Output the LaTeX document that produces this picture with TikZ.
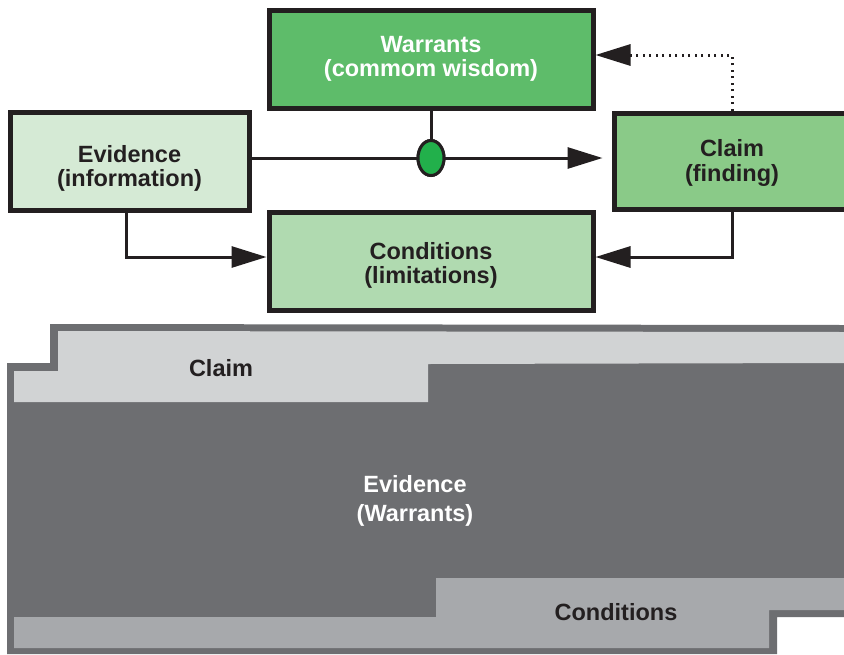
\documentclass[tikz,border=0pt]{standalone}
\usepackage{fontspec}
\setmainfont{Liberation Sans}
\usetikzlibrary{arrows.meta,shapes.geometric}
\definecolor{ink}{HTML}{231F20}
\definecolor{warfill}{HTML}{5EBC6A}
\definecolor{evfill}{HTML}{D5EAD5}
\definecolor{clfill}{HTML}{8ACA88}
\definecolor{cofill}{HTML}{B0DAB0}
\definecolor{dotfill}{HTML}{22B04B}
\definecolor{dkgray}{HTML}{6D6E71}
\definecolor{ltgray}{HTML}{D1D3D4}
\definecolor{mdgray}{HTML}{A7A9AC}
\newcommand{\dropby}[1]{\rule{0pt}{#1}}
\tikzset{
  box/.style={draw=ink, line width=5pt, rectangle, align=center,
    minimum width=#1, minimum height=98pt, inner sep=0pt,
    font=\fontsize{23.5}{24.5}\selectfont\bfseries, text=ink},
  conn/.style={draw=ink, line width=3pt},
  arr/.style={conn, -{Triangle[length=35pt,width=21pt]}},
  lbl/.style={align=center, inner sep=0pt,
    font=\fontsize{23.5}{29}\selectfont\bfseries, text=ink}
}
\begin{document}
\begin{tikzpicture}[x=1pt,y=-1pt]
\clip (0,0) rectangle (844,654);
\fill[white] (0,0) rectangle (844,654);

% lower band diagram
\fill[dkgray] (50,324) -- (844,325) -- (844,617) -- (777,617) -- (777,654)
  -- (7,654) -- (7,363) -- (50,363) -- cycle;
\fill[ltgray] (58,331) -- (844,332) -- (844,363) -- (428,364) -- (428,402)
  -- (14,402) -- (14,371) -- (58,371) -- cycle;
\fill[mdgray] (436,578) -- (844,578) -- (844,610) -- (769,610) -- (769,648)
  -- (14,648) -- (14,617) -- (436,617) -- cycle;
\node[lbl] (bcl) at (221,368) {Claim};
\node[lbl, text=white] (bev) at (415,501) {Evidence\\(Warrants)};
\node[lbl] (bco) at (616,612) {Conditions};

% upper diagram
\node[box=324pt, fill=warfill, text=white] (wa) at (431,59) {Warrants\\(commom wisdom)};
\node[box=239pt, fill=evfill] (ev) at (129.5,161) {\dropby{32pt}Evidence\\(information)};
\node[box=236pt, fill=clfill, minimum height=96pt] (cl) at (732,161) {\dropby{21pt}Claim\\(finding)};
\node[box=324pt, fill=cofill] (co) at (431,261) {\dropby{26pt}Conditions\\(limitations)};

\node[ellipse, draw=ink, line width=3pt, fill=dotfill, minimum width=26pt,
  minimum height=35pt, inner sep=0pt] (el) at (431,158) {};

\path (cl.west |- el.center) ++(-9pt,0) coordinate (tipA);
\path (ev.east |- el.center) coordinate (startA);
\draw[conn] (wa.south) -- (el.north);
\draw[arr] (startA) -- (tipA);
\node[ellipse, draw=ink, line width=3pt, fill=dotfill, minimum width=26pt,
  minimum height=35pt, inner sep=0pt] at (el.center) {};

\path (ev.south) ++(-3.5pt,0) coordinate (evdown);
\path (co.west) ++(0,4pt) coordinate (cowin);
\path (co.east) ++(0,4pt) coordinate (coein);
\path (wa.east) ++(0,4pt) coordinate (waein);
\draw[arr] (evdown) |- (cowin);
\draw[arr] (cl.south) |- (coein);
\draw[arr, dash pattern=on 2pt off 4.5pt] (cl.north) |- (waein);
\end{tikzpicture}
\end{document}
